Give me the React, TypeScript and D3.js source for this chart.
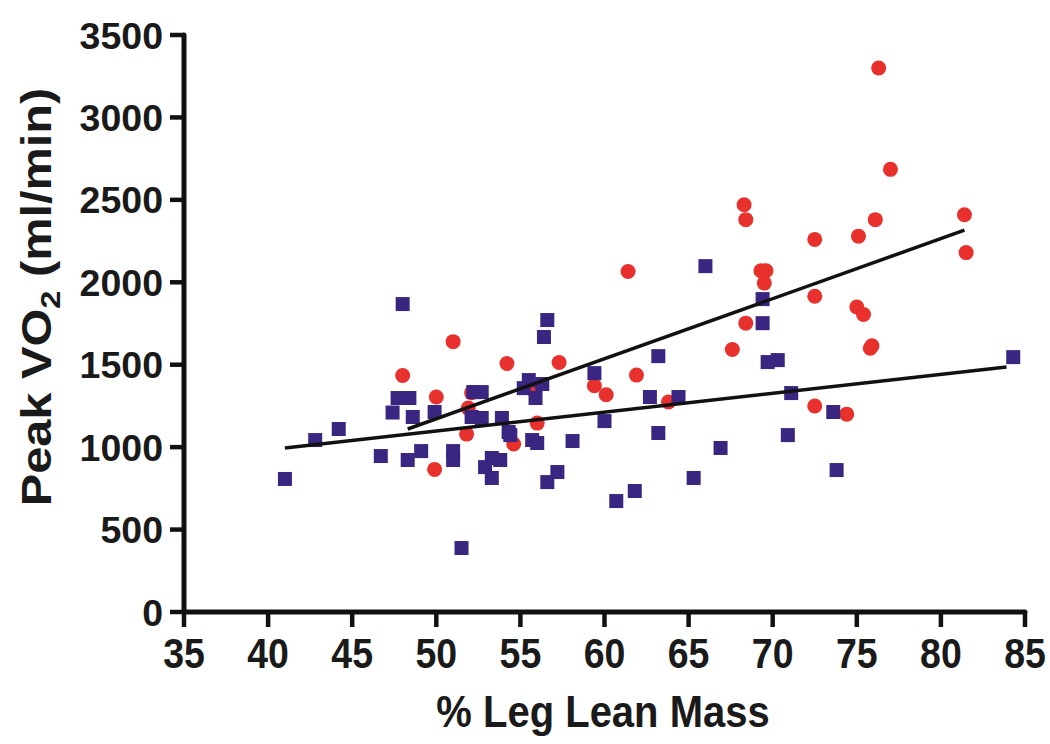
import React from "react";
import * as d3 from "d3";

// Group 1 (red circles): % leg lean mass, peak VO2
const redX = [76.3, 77.0, 68.3, 68.4, 81.4, 81.5, 76.1, 75.1, 72.5, 61.4, 69.3, 69.6, 69.5, 72.5, 68.4, 75.0, 75.4, 75.9, 75.8, 67.6, 51.0, 48.0, 54.2, 57.3, 61.9, 59.4, 60.1, 50.0, 52.1, 63.8, 72.5, 74.4, 56.0, 51.8, 54.6, 49.9, 51.9, 55.8];
const redY = [3300, 2685, 2470, 2380, 2410, 2180, 2380, 2280, 2260, 2065, 2070, 2070, 1995, 1915, 1752, 1850, 1805, 1615, 1600, 1592, 1640, 1435, 1507, 1513, 1437, 1372, 1318, 1304, 1330, 1274, 1250, 1200, 1146, 1079, 1019, 865, 1237, 1345];

// Group 2 (purple squares)
const blueX = [48.0, 47.7, 48.4, 47.4, 48.6, 49.9, 52.2, 52.1, 44.2, 42.8, 46.7, 48.3, 49.1, 51.0, 51.0, 41.0, 51.5, 56.6, 56.4, 63.2, 59.4, 55.5, 55.2, 56.3, 55.9, 52.7, 62.7, 64.4, 52.7, 53.9, 60.0, 54.3, 54.4, 63.2, 55.7, 56.0, 58.1, 53.3, 53.8, 52.9, 53.3, 57.2, 56.6, 61.8, 60.7, 65.3, 66.9, 66.0, 69.4, 69.4, 69.7, 70.3, 84.3, 71.1, 73.6, 70.9, 73.8];
const blueY = [1868, 1298, 1298, 1210, 1183, 1213, 1334, 1183, 1110, 1043, 946, 922, 976, 976, 922, 807, 388, 1771, 1668, 1552, 1449, 1407, 1358, 1383, 1298, 1334, 1304, 1304, 1177, 1177, 1158, 1092, 1073, 1086, 1043, 1025, 1037, 934, 922, 879, 813, 849, 788, 734, 673, 813, 995, 2098, 1898, 1752, 1516, 1528, 1546, 1328, 1213, 1073, 861];

// Regression lines (endpoints as read)
const redFitX = [48.3, 81.4];
const redFitY = [1110, 2316];
const blueFitX = [41.0, 83.9];
const blueFitY = [995, 1486];

const xTicks = [35, 40, 45, 50, 55, 60, 65, 70, 75, 80, 85];
const yTicks = [0, 500, 1000, 1500, 2000, 2500, 3000, 3500];

const RED = "#e8302c";
const BLUE = "#3a2580";

export default function App() {
  const x = d3.scaleLinear().domain([35, 85]).range([184, 1025]);
  const y = d3.scaleLinear().domain([0, 3500]).range([612, 35]);
  const line = d3
    .line<[number, number]>()
    .x((d) => x(d[0]))
    .y((d) => y(d[1]));
  const redFit: [number, number][] = redFitX.map((v, i) => [v, redFitY[i]]);
  const blueFit: [number, number][] = blueFitX.map((v, i) => [v, blueFitY[i]]);
  const sq = 14;
  const font = "'Liberation Sans', Arial, Helvetica, sans-serif";

  return (
    <svg
      width={1050}
      height={744}
      style={{ position: "absolute", left: 0, top: 0, background: "#fff" }}
      fontFamily={font}
    >
      <rect x={0} y={0} width={1050} height={744} fill="#fff" />
      {/* points */}
      {redX.map((v, i) => (
        <circle key={"r" + i} cx={x(v)} cy={y(redY[i])} r={7.5} fill={RED} />
      ))}
      {blueX.map((v, i) => (
        <rect
          key={"b" + i}
          x={x(v) - sq / 2}
          y={y(blueY[i]) - sq / 2}
          width={sq}
          height={sq}
          fill={BLUE}
        />
      ))}
      {/* fits */}
      <path d={line(redFit) || ""} stroke="#111" strokeWidth={3.5} fill="none" />
      <path d={line(blueFit) || ""} stroke="#111" strokeWidth={3.5} fill="none" />

      {/* axes */}
      <line x1={x(35)} x2={x(85)} y1={y(0)} y2={y(0)} stroke="#111" strokeWidth={5} strokeLinecap="round" />
      <line x1={x(35)} x2={x(35)} y1={y(0)} y2={y(3500)} stroke="#111" strokeWidth={5} strokeLinecap="round" />
      {yTicks.map((t) => (
        <g key={"yt" + t}>
          <line x1={x(35) - 14} x2={x(35)} y1={y(t)} y2={y(t)} stroke="#111" strokeWidth={4.5} />
          <text
            x={x(35) - 21}
            y={y(t) + 13.5}
            textAnchor="end"
            fontSize={37.5}
            fontWeight="bold"
            fill="#1a1a1a"
          >
            {t}
          </text>
        </g>
      ))}
      {xTicks.map((t) => (
        <g key={"xt" + t}>
          <line x1={x(t)} x2={x(t)} y1={y(0)} y2={y(0) + 15} stroke="#111" strokeWidth={4.5} />
          <text
            transform={`translate(${x(t)},668) scale(1,1.15)`}
            textAnchor="middle"
            fontSize={37.5}
            fontWeight="bold"
            fill="#1a1a1a"
          >
            {t}
          </text>
        </g>
      ))}
      {/* axis titles */}
      <text
        transform="translate(603,727) scale(1,1.12)"
        textAnchor="middle"
        fontSize={40}
        fontWeight="bold"
        fill="#1a1a1a"
      >
        % Leg Lean Mass
      </text>
      <text
        transform="translate(51,297) rotate(-90) scale(1.16,1)"
        textAnchor="middle"
        fontSize={42}
        fontWeight="bold"
        fill="#1a1a1a"
      >
        Peak VO<tspan fontSize={28} dy={9}>2</tspan>
        <tspan dy={-9}> (ml/min)</tspan>
      </text>
    </svg>
  );
}
